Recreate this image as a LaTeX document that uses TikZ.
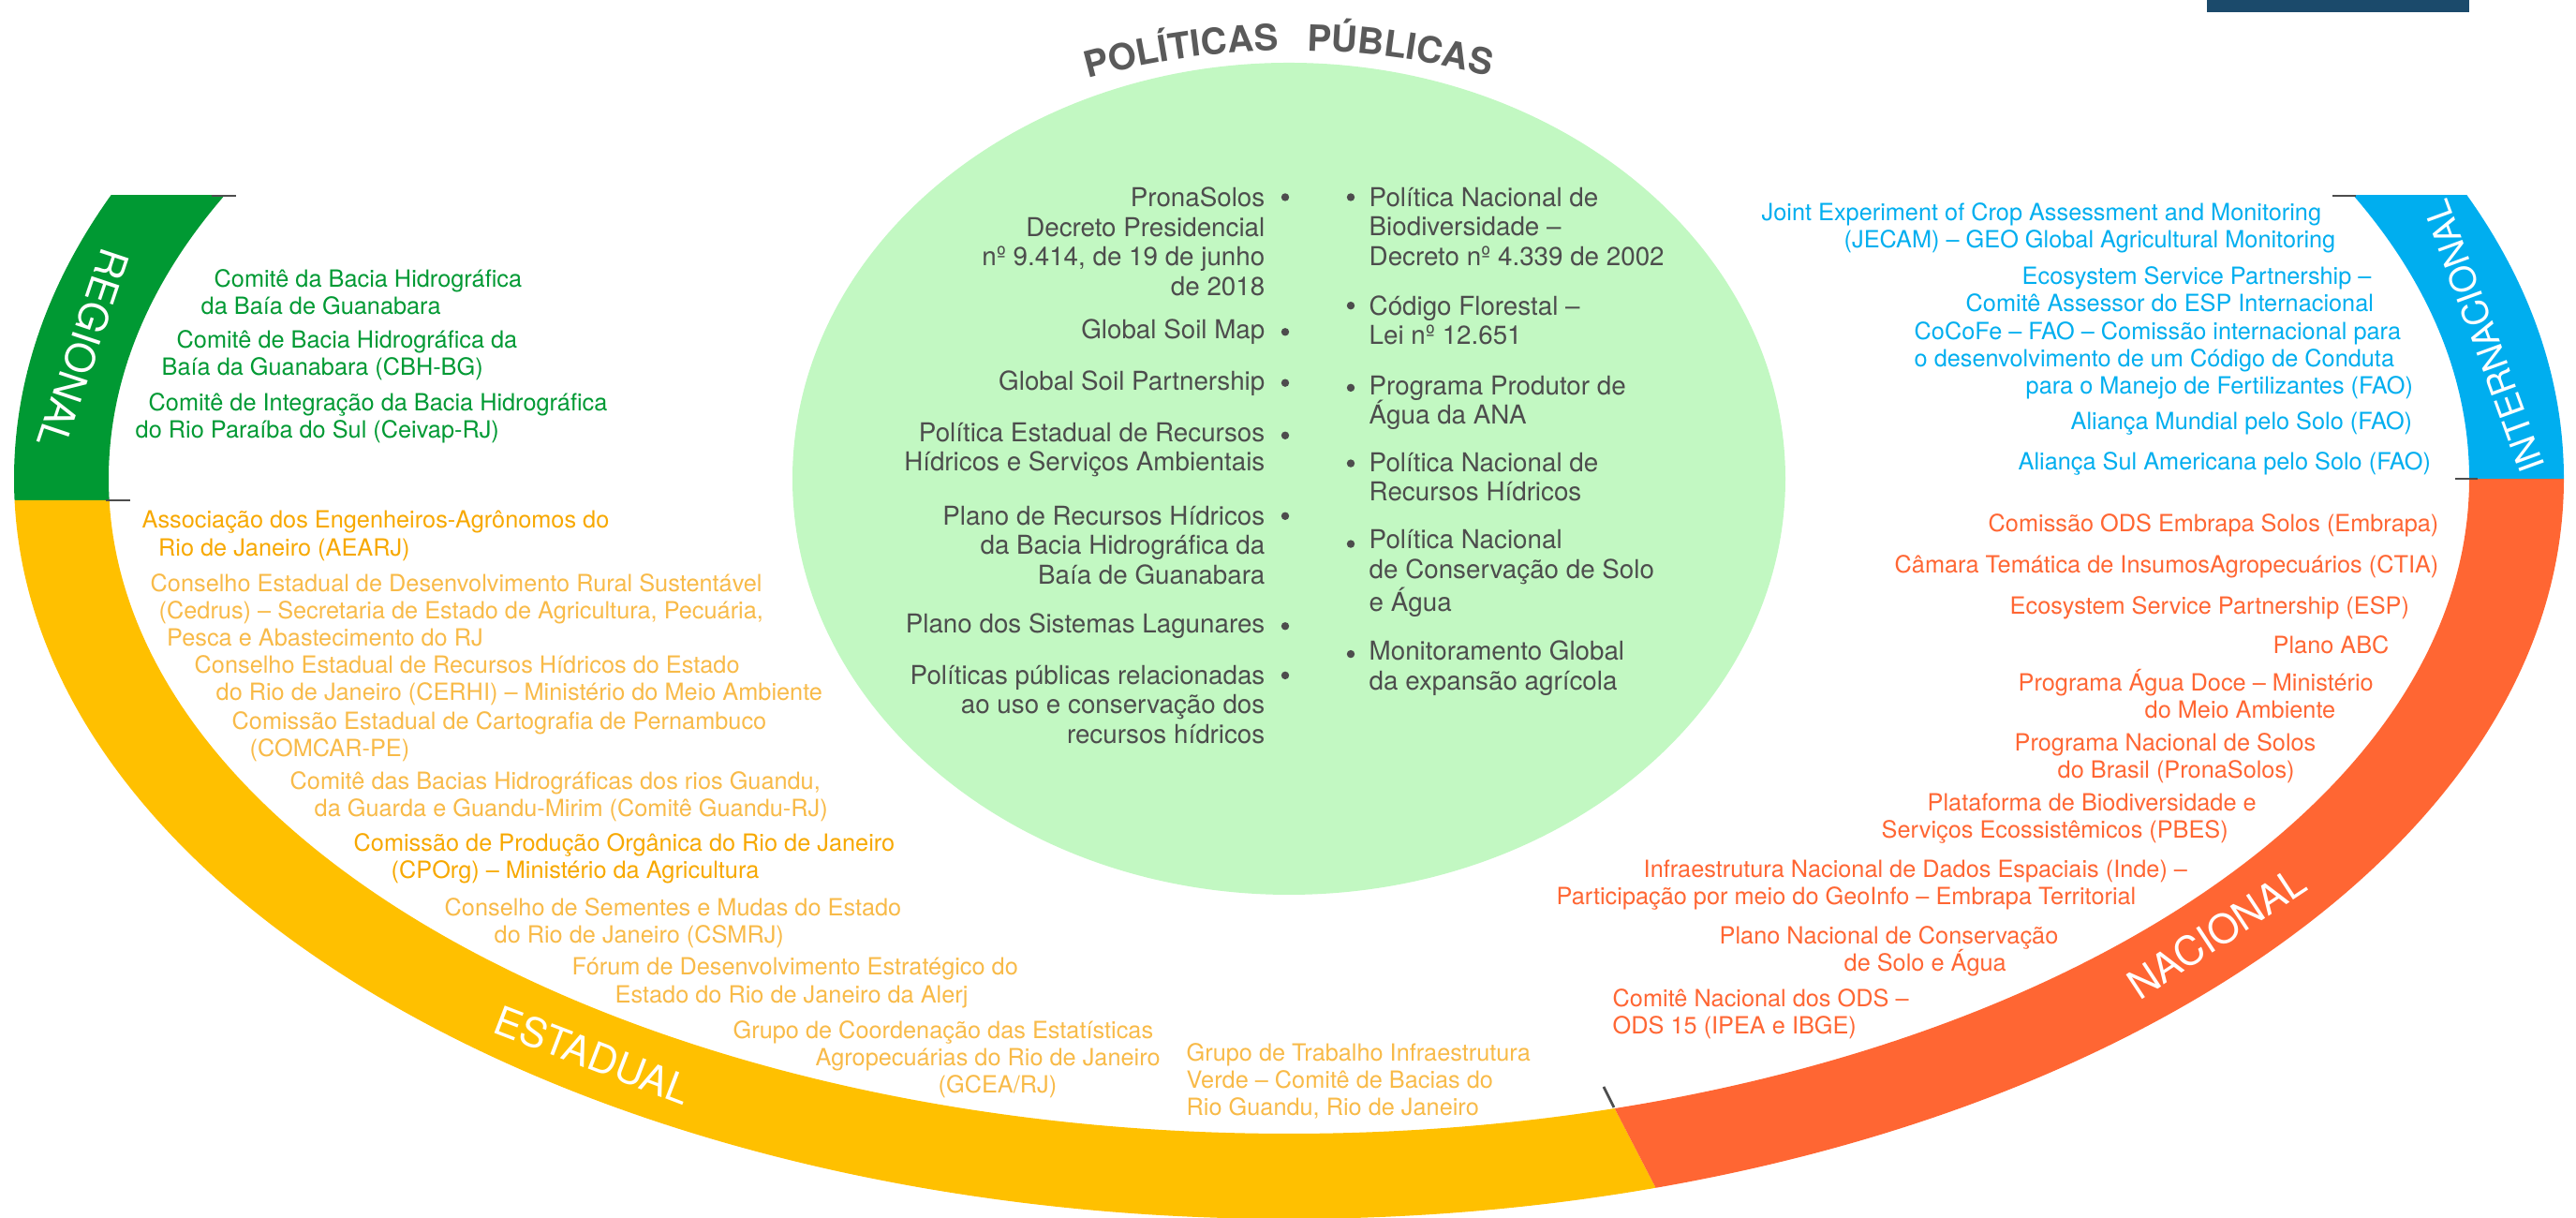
\documentclass[tikz,border=0pt]{standalone}
\usepackage{fontspec}
\setmainfont{TeX Gyre Heros}
\usetikzlibrary{decorations.text}
\definecolor{regverde}{HTML}{009933}
\definecolor{estamarelo}{HTML}{FFC000}
\definecolor{estleve}{HTML}{F8BA48}
\definecolor{estforte}{HTML}{F7A800}
\definecolor{naclaranja}{HTML}{FF6633}
\definecolor{intazul}{HTML}{00AEEF}
\definecolor{polverde}{HTML}{C2F8C2}
\definecolor{polcinza}{HTML}{4D4D4D}
\definecolor{titcinza}{HTML}{5A5A5A}
\definecolor{barraazul}{HTML}{1B4A6B}
\tikzset{
  % faixas do anel
  banda/.style={text=white,inner sep=0pt,font=\fontsize{12.2}{14}\selectfont},
  marca/.style={draw=polcinza,line width=0.8pt},
  titulo/.style={decorate,decoration={text along path,text align=#1,
      text={|\fontsize{11}{13}\selectfont\bfseries\color{titcinza}|}}},
  % textos do anel
  anelt/.style={inner sep=0pt,align=left,anchor=west,font=\fontsize{7.2}{8.3}\selectfont},
  txreg/.style={anelt,text=regverde},
  txest/.style={anelt,text=estleve},
  txnac/.style={anelt,text=naclaranja},
  txint/.style={anelt,text=intazul},
  % elipse
  polt/.style={inner sep=0pt,text=polcinza,font=\fontsize{7.9}{9}\selectfont},
  pesq/.style={polt,align=right,anchor=east},
  pdir/.style={polt,align=left,anchor=west},
  blt/.style={circle,fill=polcinza,inner sep=0pt,minimum size=2.4pt},
}
\begin{document}
\begin{tikzpicture}
  \useasboundingbox (0,0) rectangle (27.5,13);
  \coordinate (cen) at (13.76,7.89);
  \fill[barraazul] (23.56,12.87) rectangle (26.36,13);
  \fill[polverde] (cen) ellipse [x radius=5.30,y radius=4.44];
  % anel
  \begin{scope}
    \clip (-0.1,7.66) rectangle (13.76,10.91);
    \fill[regverde,even odd rule] (cen) ellipse [x radius=13.61,y radius=7.90]
      (cen) ellipse [x radius=12.60,y radius=6.99];
  \end{scope}
  \begin{scope}
    \clip (-0.1,7.66) -- (13.88,7.66) -- (18.36,-1) -- (-0.1,-1) -- cycle;
    \fill[estamarelo,even odd rule] (cen) ellipse [x radius=13.61,y radius=7.90]
      (cen) ellipse [x radius=12.60,y radius=6.99];
  \end{scope}
  \begin{scope}
    \clip (27.6,7.89) -- (13.76,7.89) -- (18.36,-1) -- (27.6,-1) -- cycle;
    \fill[naclaranja,even odd rule] (cen) ellipse [x radius=13.61,y radius=7.90]
      (cen) ellipse [x radius=12.60,y radius=6.99];
  \end{scope}
  \begin{scope}
    \clip (13.76,7.89) rectangle (27.6,10.91);
    \fill[intazul,even odd rule] (cen) ellipse [x radius=13.61,y radius=7.90]
      (cen) ellipse [x radius=12.60,y radius=6.99];
  \end{scope}
  \draw[marca] (2.26,10.91) -- (2.52,10.91);
  \draw[marca] (1.13,7.66) -- (1.39,7.66);
  \draw[marca] (24.90,10.91) -- (25.15,10.91);
  \draw[marca] (26.21,7.89) -- (26.45,7.89);
  \draw[marca] (17.12,1.40) -- (17.23,1.18);
  % nomes das faixas
  \node[banda,rotate=-108.5] (lreg) at (0.89,9.28) {REGIONAL};
  \node[banda,rotate=-21] (lest) at (6.33,1.74) {ESTADUAL};
  \node[banda,rotate=33.4] (lnac) at (23.66,3.04) {NACIONAL};
  \node[banda,rotate=110,font=\fontsize{10.8}{12}\selectfont] (lint) at (26.52,9.41) {INTERNACIONAL};
  % titulo
  \path[titulo=right,decoration={text={|\fontsize{11}{13}\selectfont\bfseries\color{titcinza}|POLÍTICAS}}]
    ([shift={(120:8.21)}]13.80,4.25) arc[start angle=120,end angle=91.05,radius=8.21];
  \path[titulo=left,decoration={text={|\fontsize{11}{13}\selectfont\bfseries\color{titcinza}|PÚBLICAS}}]
    ([shift={(88.95:8.21)}]13.80,4.25) arc[start angle=88.95,end angle=60,radius=8.21];
  % regional
  \node[txreg] (rg1) at (2.14,9.88) {\hspace*{1.4mm}Comitê da Bacia Hidrográfica\\da Baía de Guanabara};
  \node[txreg] (rg2) at (1.72,9.21) {\hspace*{1.6mm}Comitê de Bacia Hidrográfica da\\Baía da Guanabara (CBH-BG)};
  \node[txreg] (rg3) at (1.44,8.54) {\hspace*{1.4mm}Comitê de Integração da Bacia Hidrográfica\\do Rio Paraíba do Sul (Ceivap-RJ)};
  % estadual
  \node[txest,text=estforte] (es1) at (1.51,7.28) {Associação dos Engenheiros-Agrônomos do\\\hspace*{1.75mm}Rio de Janeiro (AEARJ)};
  \node[txest] (es2) at (1.60,6.49) {Conselho Estadual de Desenvolvimento Rural Sustentável\\\hspace*{0.9mm}(Cedrus) – Secretaria de Estado de Agricultura, Pecuária,\\\hspace*{1.75mm}Pesca e Abastecimento do RJ};
  \node[txest] (es3) at (2.07,5.74) {Conselho Estadual de Recursos Hídricos do Estado\\\hspace*{2.3mm}do Rio de Janeiro (CERHI) – Ministério do Meio Ambiente};
  \node[txest] (es4) at (2.47,5.14) {Comissão Estadual de Cartografia de Pernambuco\\\hspace*{1.9mm}(COMCAR-PE)};
  \node[txest] (es5) at (3.09,4.50) {Comitê das Bacias Hidrográficas dos rios Guandu,\\\hspace*{2.6mm}da Guarda e Guandu-Mirim (Comitê Guandu-RJ)};
  \node[txest,text=estforte] (es6) at (3.77,3.84) {Comissão de Produção Orgânica do Rio de Janeiro\\\hspace*{4mm}(CPOrg) – Ministério da Agricultura};
  \node[txest] (es7) at (4.74,3.15) {Conselho de Sementes e Mudas do Estado\\\hspace*{5.3mm}do Rio de Janeiro (CSMRJ)};
  \node[txest] (es8) at (6.10,2.51) {Fórum de Desenvolvimento Estratégico do\\\hspace*{4.6mm}Estado do Rio de Janeiro da Alerj};
  \node[txest] (es9) at (7.82,1.69) {Grupo de Coordenação das Estatísticas\\\hspace*{8.8mm}Agropecuárias do Rio de Janeiro\\\hspace*{21.9mm}(GCEA/RJ)};
  \node[txest] (es10) at (12.66,1.46) {Grupo de Trabalho Infraestrutura\\Verde – Comitê de Bacias do\\Rio Guandu, Rio de Janeiro};
  % nacional
  \node[txnac] (na1) at (21.22,7.39) {Comissão ODS Embrapa Solos (Embrapa)};
  \node[txnac] (na2) at (20.22,6.95) {Câmara Temática de InsumosAgropecuários (CTIA)};
  \node[txnac] (na3) at (21.45,6.51) {Ecosystem Service Partnership (ESP)};
  \node[txnac] (na4) at (24.26,6.12) {Plano ABC};
  \node[txnac] (na5) at (21.54,5.59) {Programa Água Doce – Ministério\\\hspace*{13.5mm}do Meio Ambiente};
  \node[txnac] (na6) at (21.50,4.91) {Programa Nacional de Solos\\\hspace*{4.6mm}do Brasil (PronaSolos)};
  \node[txnac] (na7) at (20.08,4.26) {\hspace*{4.9mm}Plataforma de Biodiversidade e\\Serviços Ecossistêmicos (PBES)};
  \node[txnac] (na8) at (16.61,3.55) {\hspace*{9.3mm}Infraestrutura Nacional de Dados Espaciais (Inde) –\\Participação por meio do GeoInfo – Embrapa Territorial};
  \node[txnac] (na9) at (18.35,2.85) {Plano Nacional de Conservação\\\hspace*{13.3mm}de Solo e Água};
  \node[txnac] (na10) at (17.21,2.18) {Comitê Nacional dos ODS –\\ODS 15 (IPEA e IBGE)};
  % internacional
  \node[txint] (in1) at (18.80,10.57) {Joint Experiment of Crop Assessment and Monitoring\\\hspace*{8.8mm}(JECAM) – GEO Global Agricultural Monitoring};
  \node[txint] (in2) at (20.98,9.91) {\hspace*{6mm}Ecosystem Service Partnership –\\Comitê Assessor do ESP Internacional};
  \node[txint] (in3) at (20.43,9.15) {CoCoFe – FAO – Comissão internacional para\\o desenvolvimento de um Código de Conduta\\\hspace*{11.9mm}para o Manejo de Fertilizantes (FAO)};
  \node[txint] (in4) at (22.10,8.48) {Aliança Mundial pelo Solo (FAO)};
  \node[txint] (in5) at (21.54,8.05) {Aliança Sul Americana pelo Solo (FAO)};
  % politicas publicas
  \node[pesq] (pe1) at (13.51,10.42) {PronaSolos\\Decreto Presidencial\\nº 9.414, de 19 de junho\\de 2018};
  \node[pesq] (pe2) at (13.51,9.46) {Global Soil Map};
  \node[pesq] (pe3) at (13.51,8.91) {Global Soil Partnership};
  \node[pesq] (pe4) at (13.51,8.20) {Política Estadual de Recursos\\Hídricos e Serviços Ambientais};
  \node[pesq] (pe5) at (13.51,7.18) {Plano de Recursos Hídricos\\da Bacia Hidrográfica da\\Baía de Guanabara};
  \node[pesq] (pe6) at (13.51,6.32) {Plano dos Sistemas Lagunares};
  \node[pesq] (pe7) at (13.51,5.48) {Políticas públicas relacionadas\\ao uso e conservação dos\\recursos hídricos};
  \node[pdir] (pd1) at (14.61,10.58) {Política Nacional de\\Biodiversidade –\\Decreto nº 4.339 de 2002};
  \node[pdir] (pd2) at (14.61,9.58) {Código Florestal –\\Lei nº 12.651};
  \node[pdir] (pd3) at (14.61,8.70) {Programa Produtor de\\Água da ANA};
  \node[pdir] (pd4) at (14.61,7.91) {Política Nacional de\\Recursos Hídricos};
  \node[pdir] (pd5) at (14.61,6.88) {Política Nacional\\de Conservação de Solo\\e Água};
  \node[pdir] (pd6) at (14.61,5.87) {Monitoramento Global\\da expansão agrícola};
  % marcadores
  \foreach \y [count=\i] in {10.895,9.457,8.913,8.352,7.492,6.317,5.791}
    \node[blt] (be\i) at (13.72,\y) {};
  \foreach \y [count=\i] in {10.895,9.738,8.861,8.054,7.194,6.019}
    \node[blt] (bd\i) at (14.42,\y) {};
\end{tikzpicture}
\end{document}
